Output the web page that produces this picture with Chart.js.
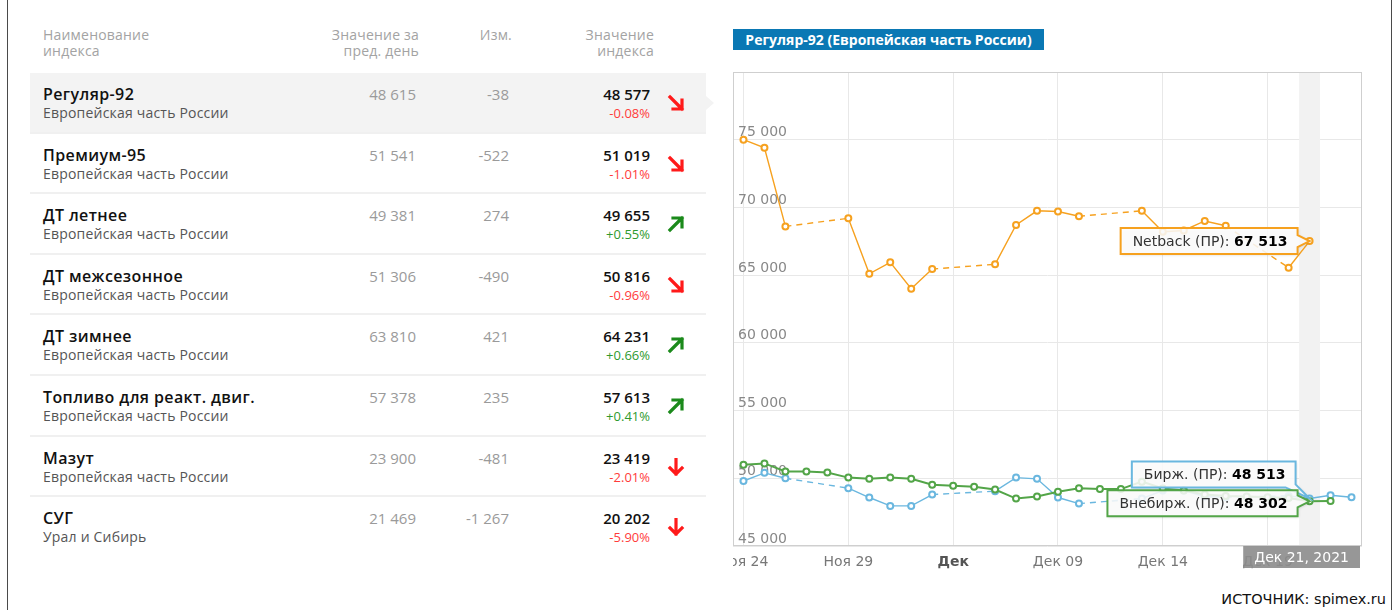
<!DOCTYPE html>
<html lang="ru">
<head>
<meta charset="utf-8">
<title>Индексы цен</title>
<script src="https://cdn.jsdelivr.net/npm/chart.js@4.4.1/dist/chart.umd.min.js"></script>
<style>
  body { margin: 0; background: #fff; font-family: "Open Sans", sans-serif; }
  #page { position: relative; width: 1399px; height: 610px; overflow: hidden; }
  .edge { position: absolute; top: 0; width: 1px; height: 610px; background: #4a4a4a; }
  #tbl { position: absolute; left: 30px; top: 20px; width: 676px; }
  .head { position: relative; height: 53px; font-size: 14px; line-height: 16px; color: #a3a3a3; letter-spacing: 0.2px; }
  .head div { position: absolute; top: 7px; }
  .row { position: relative; height: 58.6px; border-bottom: 2px solid #f0f0f0; }
  .row:last-child { border-bottom: none; }
  .row.sel { background: #f3f3f3; }
  .row.sel::after { content: ""; position: absolute; right: -8px; top: 23px;
    border-left: 8px solid #f3f3f3; border-top: 7px solid transparent; border-bottom: 7px solid transparent; }
  .row div { position: absolute; white-space: nowrap; }
  .nm { left: 13px; top: 11px; font-size: 16px; font-weight: 600; color: #111; line-height: 20px; letter-spacing: 0.4px; }
  .rg { left: 13px; top: 31px; font-size: 14px; color: #555; line-height: 18px; letter-spacing: 0.2px; }
  .pv, .ch { top: 11px; font-size: 15px; color: #9a9a9a; line-height: 20px; }
  .pv { right: 290px; }
  .ch { right: 197px; }
  .iv { right: 56px; top: 11px; font-size: 15px; font-weight: 600; color: #111; line-height: 20px; }
  .pc { right: 56px; top: 32px; font-size: 13px; line-height: 16px; }
  .ar { left: 637px; top: 21px; }
  #badge { position: absolute; left: 733px; top: 29px; width: 311px; height: 21px; background: #0a78b4;
    color: #fff; font-weight: 700; font-size: 14px; line-height: 21px; text-align: center; }
  #chartBox { position: absolute; left: 733px; top: 60px; width: 657px; height: 520px; }
  #source { position: absolute; right: 13px; top: 591px; font-family: "DejaVu Sans", sans-serif;
    font-size: 14.5px; color: #111; }
</style>
</head>
<body>
<div id="page">
  <div class="edge" style="left:7px"></div>
  <div class="edge" style="left:1391px"></div>
  <div id="tbl">
    <div class="head">
      <div style="left:13px">Наименование<br>индекса</div>
      <div style="right:287px;text-align:right">Значение за<br>пред. день</div>
      <div style="right:194px;text-align:right">Изм.</div>
      <div style="right:52px;text-align:right">Значение<br>индекса</div>
    </div>
    <div id="rows"></div>
  </div>
  <div id="badge">Регуляр-92 (Европейская часть России)</div>
  <div id="chartBox"><canvas id="chart" width="657" height="520"></canvas></div>
  <div id="source">ИСТОЧНИК: spimex.ru</div>
</div>

<script>
// table
const names = ["Регуляр-92", "Премиум-95", "ДТ летнее", "ДТ межсезонное", "ДТ зимнее",
  "Топливо для реакт. двиг.", "Мазут", "СУГ"];
const regions = ["Европейская часть России", "Европейская часть России", "Европейская часть России",
  "Европейская часть России", "Европейская часть России", "Европейская часть России",
  "Европейская часть России", "Урал и Сибирь"];
const prevValues = [48615, 51541, 49381, 51306, 63810, 57378, 23900, 21469];
const changes = [-38, -522, 274, -490, 421, 235, -481, -1267];
const indexValues = [48577, 51019, 49655, 50816, 64231, 57613, 23419, 20202];
const changePct = [-0.08, -1.01, 0.55, -0.96, 0.66, 0.41, -2.01, -5.90];

// chart
const dates = ["Ноя 24", "Ноя 25", "Ноя 26", "Ноя 27", "Ноя 28", "Ноя 29", "Ноя 30",
  "Дек 01", "Дек 02", "Дек 03", "Дек 04", "Дек 05", "Дек 06", "Дек 07", "Дек 08",
  "Дек 09", "Дек 10", "Дек 11", "Дек 12", "Дек 13", "Дек 14", "Дек 15", "Дек 16",
  "Дек 17", "Дек 18", "Дек 19", "Дек 20", "Дек 21", "Дек 22", "Дек 23"];
const tickLabels = ["Ноя 24", "Ноя 29", "Дек", "Дек 09", "Дек 14", "Дек 19"];
const netback = [75000, 74400, 68600, null, null, 69200, 65100, 65950, 64000, 65450,
  null, null, 65800, 68700, 69750, 69700, 69350, null, null, 69750,
  68200, 68300, 69000, 68650, null, null, 65550, 67513, null, null];
const birzh = [49800, 50400, 50000, null, null, 49270, 48580, 47960, 47960, 48800,
  null, null, 49050, 50050, 49960, 48580, 48130, null, null, 48500,
  49100, 49100, 48650, 48600, null, null, 48700, 48513, 48750, 48600];
const vnebirzh = [51000, 51100, 50500, 50500, 50430, 50050, 49960, 50050, 49960, 49520,
  49440, 49370, 49170, 48500, 48650, 49000, 49270, 49200, 49200, 49750,
  49250, 49100, 48800, 48700, 48650, 48600, 48550, 48302, 48330, null];
const seriesNames = ["Netback (ПР)", "Бирж. (ПР)", "Внебирж. (ПР)"];
const hoverIndex = 27;
const hoverLabel = "Дек 21, 2021";

function fmt(n) {
  const s = String(Math.abs(n)).replace(/\B(?=(\d{3})+(?!\d))/g, " ");
  return n < 0 ? "-" + s : s;
}

function arrowSvg(pct) {
  let color = pct > 0 ? "#1b8a1b" : "#ff1a1a";
  let path;
  if (pct > 0) path = "M3 15 L15 3 M6 3 L15 3 L15 12";
  else if (pct <= -2) path = "M9 1 L9 16 M3 10 L9 16 L15 10";
  else path = "M3 3 L15 15 M15 6 L15 15 L6 15";
  return `<svg width="18" height="18" viewBox="0 0 18 18"><path d="${path}" fill="none" stroke="${color}" stroke-width="3.2" stroke-linecap="square"/></svg>`;
}

function buildTable() {
  const body = document.getElementById("rows");
  names.forEach((n, i) => {
    const row = document.createElement("div");
    row.className = "row" + (i === 0 ? " sel" : "");
    const pct = changePct[i];
    const pctText = (pct > 0 ? "+" : "") + pct.toFixed(2) + "%";
    row.innerHTML = `
      <div class="nm">${n}</div>
      <div class="rg">${regions[i]}</div>
      <div class="pv">${fmt(prevValues[i])}</div>
      <div class="ch">${fmt(changes[i])}</div>
      <div class="iv">${fmt(indexValues[i])}</div>
      <div class="pc" style="color:${pct > 0 ? "#2e9a2e" : "#ff3b3b"}">${pctText}</div>
      <div class="ar">${arrowSvg(pct)}</div>`;
    body.appendChild(row);
  });
}

const CHART_FONT = "DejaVu Sans";

function callout(ctx, x, y, w, h, ax, ay, mode) {
  const r = x + w, b = y + h;
  ctx.beginPath();
  ctx.moveTo(x, y);
  ctx.lineTo(r, y);
  if (mode === "right") {
    ctx.lineTo(r, ay - 6);
    ctx.lineTo(ax, ay);
    ctx.lineTo(r, ay + 6);
    ctx.lineTo(r, b);
  } else {
    ctx.lineTo(r, b - 3);
    ctx.lineTo(ax, ay);
    ctx.lineTo(r - 10, b);
  }
  ctx.lineTo(x, b);
  ctx.closePath();
}

const overlay = {
  id: "overlay",
  beforeDatasetsDraw(chart) {
    const { ctx, chartArea: a, scales: { x } } = chart;
    const step = x.getPixelForValue(1) - x.getPixelForValue(0);
    const px = x.getPixelForValue(hoverIndex);
    ctx.save();
    ctx.fillStyle = "#f2f2f2";
    ctx.fillRect(px - step / 2, a.top, step, a.height);
    ctx.strokeStyle = "#cfcfcf";
    ctx.lineWidth = 1;
    ctx.strokeRect(a.left + 0.5, a.top + 0.5, a.width - 1, a.height - 1);
    ctx.restore();
  },
  afterDraw(chart) {
    const { ctx, chartArea: a, scales: { x, y } } = chart;
    const px = x.getPixelForValue(hoverIndex);
    ctx.save();

    // date label under the crosshair
    ctx.font = `14px "${CHART_FONT}"`;
    const dw = ctx.measureText(hoverLabel).width + 22;
    const dx = Math.min(px - dw / 2, a.right - dw - 2);
    ctx.fillStyle = "rgba(140,140,140,0.9)";
    ctx.fillRect(dx, a.bottom, dw, 22);
    ctx.fillStyle = "#fff";
    ctx.textBaseline = "middle";
    ctx.fillText(hoverLabel, dx + 11, a.bottom + 12);

    // tooltips
    const tips = [
      { ds: 0, color: "#f6a11f", mode: "right", gap: 12, dy: -13 },
      { ds: 1, color: "#6ab7df", mode: "below", gap: 14, dy: -37 },
      { ds: 2, color: "#53a548", mode: "right", gap: 12, dy: -11 }
    ];
    tips.forEach(t => {
      const val = chart.data.datasets[t.ds].data[hoverIndex];
      const ay = y.getPixelForValue(val);
      const label = seriesNames[t.ds] + ": ";
      const value = fmt(val);
      ctx.font = `14px "${CHART_FONT}"`;
      const lw = ctx.measureText(label).width;
      ctx.font = `bold 14px "${CHART_FONT}"`;
      const vw = ctx.measureText(value).width;
      const w = lw + vw + 22;
      const h = 26;
      const bx = px - t.gap - w;
      const by = ay + t.dy;
      ctx.save();
      ctx.shadowColor = "rgba(0,0,0,0.18)";
      ctx.shadowBlur = 3;
      ctx.shadowOffsetX = 1;
      ctx.shadowOffsetY = 1;
      callout(ctx, bx, by, w, h, px, ay, t.mode);
      ctx.fillStyle = "rgba(255,255,255,0.86)";
      ctx.fill();
      ctx.restore();
      callout(ctx, bx, by, w, h, px, ay, t.mode);
      ctx.strokeStyle = t.color;
      ctx.lineWidth = 2;
      ctx.stroke();
      ctx.textBaseline = "middle";
      ctx.fillStyle = "#333";
      ctx.font = `14px "${CHART_FONT}"`;
      ctx.fillText(label, bx + 12, by + h / 2 + 1);
      ctx.fillStyle = "#000";
      ctx.font = `bold 14px "${CHART_FONT}"`;
      ctx.fillText(value, bx + 12 + lw, by + h / 2 + 1);
    });
    ctx.restore();
  }
};

// dashed where the line jumps over missing days
function gapDash(c) {
  return (c.p0.skip || c.p1.skip) ? [6, 5] : undefined;
}

function makeSet(label, data, color, width, order) {
  return {
    label, data, order,
    borderColor: color,
    borderWidth: width,
    pointRadius: 3,
    pointBorderWidth: 2,
    pointBackgroundColor: "#fff",
    pointBorderColor: color,
    spanGaps: true,
    tension: 0,
    segment: { borderDash: gapDash }
  };
}

function drawChart() {
  const ctx = document.getElementById("chart").getContext("2d");
  new Chart(ctx, {
    type: "line",
    data: {
      labels: dates,
      datasets: [
        makeSet(seriesNames[0], netback, "#f6a11f", 1.4, 3),
        makeSet(seriesNames[1], birzh, "#6ab7df", 1.4, 2),
        makeSet(seriesNames[2], vnebirzh, "#53a548", 2, 1)
      ]
    },
    options: {
      responsive: false,
      animation: false,
      layout: { autoPadding: false, padding: { left: 0, top: 12, right: 28, bottom: 0 } },
      plugins: { legend: { display: false }, tooltip: { enabled: false } },
      scales: {
        x: {
          offset: true,
          grid: {
            offset: false,
            drawTicks: false,
            color: c => (c.index % 5 === 0 ? "#e8e8e8" : "rgba(0,0,0,0)")
          },
          border: { display: false },
          ticks: {
            autoSkip: false,
            maxRotation: 0,
            padding: 8,
            callback: (v, i) => (i % 5 === 0 ? tickLabels[i / 5] : ""),
            color: c => (c.index === 10 ? "#555" : "#777"),
            font: c => ({ family: CHART_FONT, size: 14, weight: c.index === 10 ? "bold" : "normal" })
          },
          afterFit: s => {
            s.height = 34;
            s.paddingLeft = 0;
            s.paddingRight = 0;
          }
        },
        y: {
          min: 45000,
          max: 80000,
          grid: {
            drawTicks: false,
            color: c => (c.tick && c.tick.value === 80000 ? "rgba(0,0,0,0)" : "#e8e8e8")
          },
          border: { display: false },
          ticks: {
            stepSize: 5000,
            mirror: true,
            padding: 5,
            labelOffset: -7,
            color: "#888",
            font: { family: CHART_FONT, size: 14 },
            callback: v => (v === 80000 ? "" : fmt(v))
          },
          afterFit: s => {
            s.width = 0;
            s.paddingTop = 0;
            s.paddingBottom = 0;
          }
        }
      }
    },
    plugins: [overlay]
  });
}

document.addEventListener("DOMContentLoaded", () => {
  buildTable();
  drawChart();
});
</script>
</body>
</html>
